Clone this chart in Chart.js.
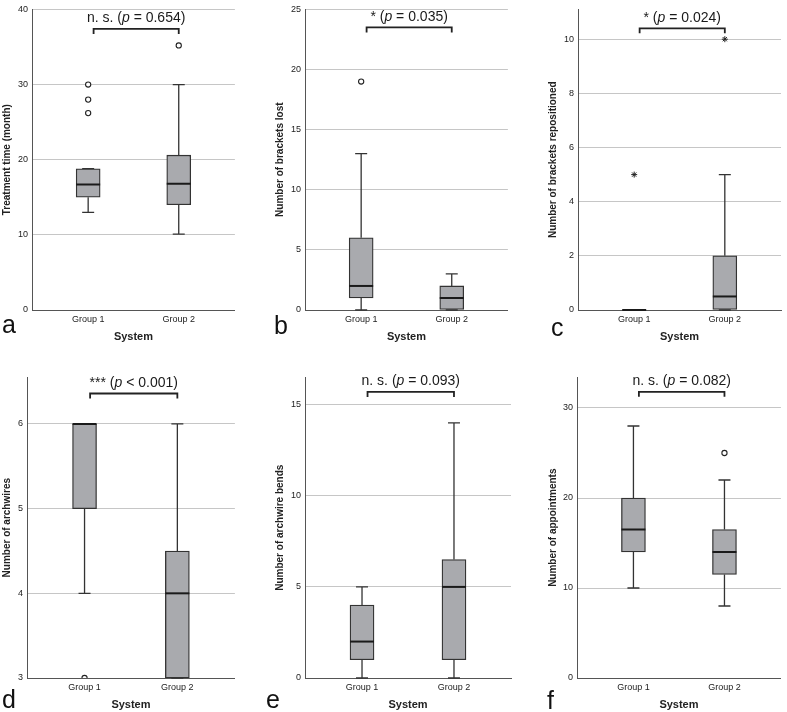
<!DOCTYPE html>
<html>
<head>
<meta charset="utf-8">
<script src="https://cdn.jsdelivr.net/npm/chart.js@4.4.1/dist/chart.umd.min.js"></script>
<style>
  body { margin: 0; background: #fff; width: 787px; height: 712px; position: relative; overflow: hidden;
         font-family: "Liberation Sans", Arial, sans-serif; }
  .panel { position: absolute; width: 240px; height: 350px; }
  .letter { position: absolute; font-size: 25px; line-height: 25px; color: #111; }
</style>
</head>
<body>
<div class="panel" style="left:0px;top:0px"><canvas id="cA"></canvas></div>
<div class="panel" style="left:273px;top:0px"><canvas id="cB"></canvas></div>
<div class="panel" style="left:546px;top:0px"><canvas id="cC"></canvas></div>
<div class="panel" style="left:0px;top:368px"><canvas id="cD"></canvas></div>
<div class="panel" style="left:273px;top:368px"><canvas id="cE"></canvas></div>
<div class="panel" style="left:546px;top:368px"><canvas id="cF"></canvas></div>
<div class="letter" style="left:2px;top:312px">a</div>
<div class="letter" style="left:274px;top:313px">b</div>
<div class="letter" style="left:551px;top:315px">c</div>
<div class="letter" style="left:2px;top:687px">d</div>
<div class="letter" style="left:266px;top:687px">e</div>
<div class="letter" style="left:547px;top:688px">f</div>
<script>
const groups = ["Group 1", "Group 2"];

// a - treatment time
const timeLow = [13, 10.1];
const timeQ1 = [15, 14];
const timeMed = [16.7, 16.8];
const timeQ3 = [18.8, 20.6];
const timeHigh = [18.8, 30];
const timeOut = [[26.2, 28, 30], [35.2]];
const timeFar = [[], []];

// b - brackets lost
const lostLow = [0, 0];
const lostQ1 = [1, 0];
const lostMed = [2, 1];
const lostQ3 = [6, 2];
const lostHigh = [13, 3];
const lostOut = [[19], []];
const lostFar = [[], []];

// c - brackets repositioned
const repoLow = [0, 0];
const repoQ1 = [0, 0];
const repoMed = [0, 0.5];
const repoQ3 = [0, 2];
const repoHigh = [0, 5];
const repoOut = [[], []];
const repoFar = [[5], [10]];

// d - archwires
const wireLow = [4, 3];
const wireQ1 = [5, 3];
const wireMed = [6, 4];
const wireQ3 = [6, 4.5];
const wireHigh = [6, 6];
const wireOut = [[3], []];
const wireFar = [[], []];

// e - archwire bends
const bendLow = [0, 0];
const bendQ1 = [1, 1];
const bendMed = [2, 5];
const bendQ3 = [4, 6.5];
const bendHigh = [5, 14];
const bendOut = [[], []];
const bendFar = [[], []];

// f - appointments
const apptLow = [10, 8];
const apptQ1 = [14, 11.5];
const apptMed = [16.5, 14];
const apptQ3 = [20, 16.5];
const apptHigh = [28, 22];
const apptOut = [[], [25]];
const apptFar = [[], []];

const yTitles = ["Treatment time (month)", "Number of brackets lost", "Number of brackets repositioned",
                 "Number of archwires", "Number of archwire bends", "Number of appointments"];
const yMin = [0, 0, 0, 3, 0, 0];
const yMax = [40, 25, 11.1, 6.55, 16.5, 33.4];
const yStep = [10, 5, 2, 1, 5, 10];
const sigMarks = ["n. s.", "*", "*", "***", "n. s.", "n. s."];
const pRel = ["=", "=", "=", "<", "=", "="];
const pValues = ["0.654", "0.035", "0.024", "0.001", "0.093", "0.082"];
const bracketAt = [37.4, 23.5, 10.4, 6.36, 15.7, 31.8];

Chart.defaults.font.family = '"Liberation Sans", Arial, sans-serif';
Chart.defaults.color = "#222";

const panels = [
  { id: "cA", low: timeLow, q1: timeQ1, med: timeMed, q3: timeQ3, high: timeHigh, out: timeOut, far: timeFar, yw: 32 },
  { id: "cB", low: lostLow, q1: lostQ1, med: lostMed, q3: lostQ3, high: lostHigh, out: lostOut, far: lostFar, yw: 32 },
  { id: "cC", low: repoLow, q1: repoQ1, med: repoMed, q3: repoQ3, high: repoHigh, out: repoOut, far: repoFar, yw: 32 },
  { id: "cD", low: wireLow, q1: wireQ1, med: wireMed, q3: wireQ3, high: wireHigh, out: wireOut, far: wireFar, yw: 27 },
  { id: "cE", low: bendLow, q1: bendQ1, med: bendMed, q3: bendQ3, high: bendHigh, out: bendOut, far: bendFar, yw: 32 },
  { id: "cF", low: apptLow, q1: apptQ1, med: apptMed, q3: apptQ3, high: apptHigh, out: apptOut, far: apptFar, yw: 31 }
];

function boxPlugin(p, k) {
  return {
    id: "boxExtras" + k,
    beforeDatasetsDraw(chart) {
      const { ctx, scales: { x, y } } = chart;
      ctx.save();
      ctx.strokeStyle = "#333";
      ctx.lineWidth = 1.3;
      groups.forEach((g, i) => {
        const cx = x.getPixelForValue(i);
        const yHi = y.getPixelForValue(p.high[i]);
        const yLo = y.getPixelForValue(p.low[i]);
        ctx.beginPath();
        ctx.moveTo(cx, y.getPixelForValue(p.q3[i]));
        ctx.lineTo(cx, yHi);
        ctx.moveTo(cx, y.getPixelForValue(p.q1[i]));
        ctx.lineTo(cx, yLo);
        ctx.moveTo(cx - 6, yHi);
        ctx.lineTo(cx + 6, yHi);
        ctx.moveTo(cx - 6, yLo);
        ctx.lineTo(cx + 6, yLo);
        ctx.stroke();
      });
      ctx.restore();
    },
    afterDatasetsDraw(chart) {
      const { ctx, scales: { x, y } } = chart;
      ctx.save();
      // medians
      ctx.strokeStyle = "#1a1a1a";
      ctx.lineWidth = 2;
      groups.forEach((g, i) => {
        const cx = x.getPixelForValue(i);
        const ym = y.getPixelForValue(p.med[i]);
        ctx.beginPath();
        ctx.moveTo(cx - 12, ym);
        ctx.lineTo(cx + 12, ym);
        ctx.stroke();
      });
      // significance bracket
      const x0 = x.getPixelForValue(0.06);
      const x1 = x.getPixelForValue(1.0);
      const yb = y.getPixelForValue(bracketAt[k]);
      ctx.strokeStyle = "#222";
      ctx.lineWidth = 1.8;
      ctx.beginPath();
      ctx.moveTo(x0, yb + 5);
      ctx.lineTo(x0, yb);
      ctx.lineTo(x1, yb);
      ctx.lineTo(x1, yb + 5);
      ctx.stroke();
      // label: stars (p = value)
      const normal = '14px "Liberation Sans", Arial, sans-serif';
      const italic = 'italic 14px "Liberation Sans", Arial, sans-serif';
      const parts = [[sigMarks[k] + " (", normal], ["p", italic], [" " + pRel[k] + " " + pValues[k] + ")", normal]];
      let total = 0;
      parts.forEach(pt => { ctx.font = pt[1]; total += ctx.measureText(pt[0]).width; });
      let tx = (x0 + x1) / 2 - total / 2;
      ctx.fillStyle = "#1a1a1a";
      ctx.textBaseline = "middle";
      ctx.textAlign = "left";
      parts.forEach(pt => {
        ctx.font = pt[1];
        ctx.fillText(pt[0], tx, yb - 10.5);
        tx += ctx.measureText(pt[0]).width;
      });
      ctx.restore();
    }
  };
}

panels.forEach((p, k) => {
  const step = yStep[k];
  const min = yMin[k];
  new Chart(document.getElementById(p.id), {
    type: "bar",
    data: {
      datasets: [
        {
          type: "bar",
          data: groups.map((g, i) => ({ x: i, y: [p.q1[i], p.q3[i]] })),
          backgroundColor: "#a9aaae",
          borderColor: "#333",
          borderWidth: 1.3,
          borderSkipped: false,
          barThickness: 24
        },
        {
          type: "line",
          showLine: false,
          data: p.out.flatMap((vals, i) => vals.map(v => ({ x: i, y: v }))),
          pointStyle: "circle",
          pointRadius: 2.6,
          pointBackgroundColor: "#fff",
          pointBorderColor: "#222",
          pointBorderWidth: 1.1
        },
        {
          type: "line",
          showLine: false,
          data: p.far.flatMap((vals, i) => vals.map(v => ({ x: i, y: v }))),
          pointStyle: "star",
          pointRadius: 3,
          pointBorderColor: "#222",
          pointBorderWidth: 1
        }
      ]
    },
    options: {
      responsive: true,
      maintainAspectRatio: false,
      animation: false,
      layout: { padding: { top: 7, right: 2, left: 0, bottom: 0 } },
      plugins: { legend: { display: false }, tooltip: { enabled: false } },
      scales: {
        x: {
          type: "linear",
          min: -0.62,
          max: 1.62,
          offset: false,
          grid: { display: false, drawTicks: false, offset: false },
          border: { display: true, color: "#555", width: 1 },
          afterBuildTicks: sc => { sc.ticks = groups.map((g, i) => ({ value: i })); },
          afterFit: sc => { sc.height = 40; },
          ticks: { font: { size: 9 }, color: "#222", padding: 4, autoSkip: false, maxRotation: 0,
                   callback: v => groups[v] || "" },
          title: { display: true, text: "System", font: { size: 11, weight: "bold" }, color: "#222",
                   padding: { top: 0, bottom: 6 } }
        },
        y: {
          type: "linear",
          min: min,
          max: yMax[k],
          afterBuildTicks: sc => {
            sc.ticks = sc.ticks.filter(t => Math.abs((t.value - min) / step - Math.round((t.value - min) / step)) < 1e-6);
          },
          afterFit: sc => { sc.width = p.yw; },
          grid: {
            drawTicks: false,
            lineWidth: 1,
            color: c => (c.tick && c.tick.value === min) ? "rgba(0,0,0,0)" : "#c6c6c6"
          },
          border: { display: true, color: "#555", width: 1 },
          ticks: { stepSize: step, font: { size: 9 }, color: "#222", padding: 4 },
          title: { display: true, text: yTitles[k], font: { size: 10, weight: "bold" }, color: "#222",
                   padding: { top: 1, bottom: 0 } }
        }
      }
    },
    plugins: [boxPlugin(p, k)]
  });
});
</script>
</body>
</html>
